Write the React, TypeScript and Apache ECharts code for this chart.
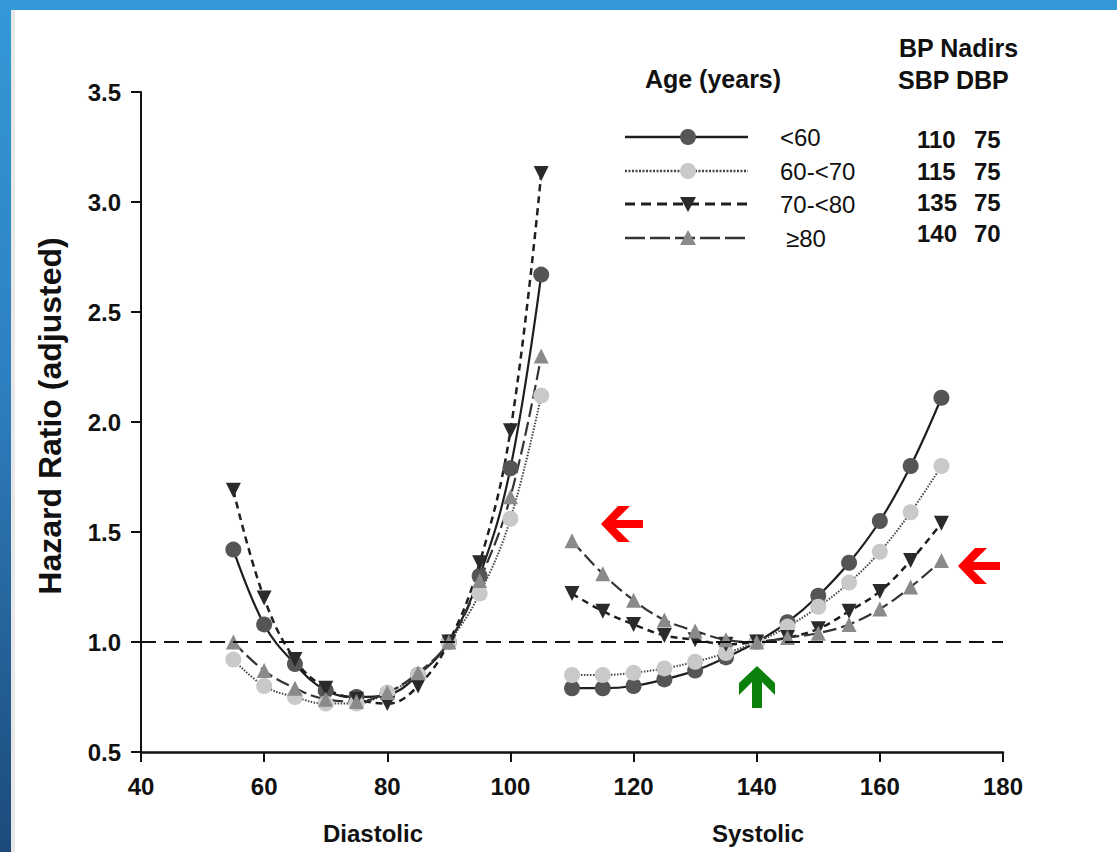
import React, { useEffect, useRef } from 'react';
import * as echarts from 'echarts';

const X_DIASTOLIC = [55, 60, 65, 70, 75, 80, 85, 90, 95, 100, 105];
const X_SYSTOLIC = [110, 115, 120, 125, 130, 135, 140, 145, 150, 155, 160, 165, 170];
const AGE_GROUPS = ['<60', '60-<70', '70-<80', '≥80'];

const DIA_LT60 = [1.42, 1.08, 0.9, 0.78, 0.75, 0.76, 0.85, 1.0, 1.3, 1.79, 2.67];
const DIA_60_70 = [0.92, 0.8, 0.75, 0.72, 0.72, 0.77, 0.85, 1.0, 1.22, 1.56, 2.12];
const DIA_70_80 = [1.69, 1.2, 0.92, 0.79, 0.74, 0.72, 0.8, 1.0, 1.36, 1.96, 3.13];
const DIA_GE80 = [1.0, 0.87, 0.79, 0.74, 0.73, 0.77, 0.86, 1.0, 1.28, 1.66, 2.3];

const SYS_LT60 = [0.79, 0.79, 0.8, 0.83, 0.87, 0.93, 1.0, 1.09, 1.21, 1.36, 1.55, 1.8, 2.11];
const SYS_60_70 = [0.85, 0.85, 0.86, 0.88, 0.91, 0.95, 1.0, 1.07, 1.16, 1.27, 1.41, 1.59, 1.8];
const SYS_70_80 = [1.22, 1.14, 1.08, 1.03, 1.01, 0.99, 1.0, 1.02, 1.06, 1.14, 1.23, 1.37, 1.54];
const SYS_GE80 = [1.46, 1.31, 1.19, 1.1, 1.05, 1.01, 1.0, 1.02, 1.04, 1.08, 1.15, 1.25, 1.37];

const SBP_NADIRS = [110, 115, 135, 140];
const DBP_NADIRS = [75, 75, 75, 70];

const FONT = '"Liberation Sans", Arial, Helvetica, sans-serif';
const DOWN_TRI = 'path://M0,0 L10,0 L5,9 Z';

const STYLES = [
  { symbol: 'circle', size: 16, fill: '#555555', line: { color: '#1e1e1e', width: 2.2, type: 'solid' as any } },
  { symbol: 'circle', size: 16, fill: '#c9c9c9', line: { color: '#444444', width: 2, type: [1.5, 1.5] as any } },
  { symbol: DOWN_TRI, size: 15, fill: '#2a2a2a', line: { color: '#1e1e1e', width: 2.5, type: [7, 5] as any } },
  { symbol: 'triangle', size: 15, fill: '#8a8a8a', line: { color: '#333333', width: 2.2, type: [14, 5] as any } },
];

const DIA_SETS = [DIA_LT60, DIA_60_70, DIA_70_80, DIA_GE80];
const SYS_SETS = [SYS_LT60, SYS_60_70, SYS_70_80, SYS_GE80];

function pairs(xs: number[], ys: number[]) {
  return xs.map((x, i) => [x, ys[i]]);
}

export default function App() {
  const ref = useRef<HTMLDivElement>(null);

  useEffect(() => {
    if (!ref.current) return;
    const chart = echarts.init(ref.current, undefined, { renderer: 'svg' });

    const series: any[] = [];
    AGE_GROUPS.forEach((name, g) => {
      const st = STYLES[g];
      [DIA_SETS[g], SYS_SETS[g]].forEach((vals, k) => {
        series.push({
          type: 'line',
          name,
          data: pairs(k === 0 ? X_DIASTOLIC : X_SYSTOLIC, vals),
          smooth: 0.4,
          symbol: st.symbol,
          symbolSize: st.size,
          itemStyle: { color: st.fill, borderWidth: 0 },
          lineStyle: st.line,
          z: 3,
        });
      });
    });
    series[0].markLine = {
      silent: true,
      symbol: 'none',
      label: { show: false },
      lineStyle: { color: '#111', width: 2.2, type: [15, 8] },
      data: [{ yAxis: 1 }],
    };

    const legendRowsY = [137, 171, 204, 238];
    const legendGraphics: any[] = [];
    AGE_GROUPS.forEach((name, g) => {
      const y = legendRowsY[g];
      const st = STYLES[g];
      legendGraphics.push({
        type: 'line',
        shape: { x1: 625, y1: y, x2: 748, y2: y },
        style: {
          stroke: st.line.color,
          lineWidth: st.line.width + 0.4,
          lineDash: g === 0 ? null : g === 1 ? [2, 1.5] : g === 2 ? [10, 6] : [20, 5],
        },
      });
      if (g < 2) {
        legendGraphics.push({ type: 'circle', shape: { cx: 688, cy: y, r: 8 }, style: { fill: st.fill } });
      } else if (g === 2) {
        legendGraphics.push({
          type: 'polygon',
          shape: { points: [[680, y - 7], [696, y - 7], [688, y + 8]] },
          style: { fill: st.fill },
        });
      } else {
        legendGraphics.push({
          type: 'polygon',
          shape: { points: [[688, y - 8], [696, y + 7], [680, y + 7]] },
          style: { fill: st.fill },
        });
      }
      legendGraphics.push({
        type: 'text',
        x: g === 3 ? 786 : 780,
        y,
        style: { text: name, font: `24px ${FONT}`, fill: '#111', verticalAlign: 'middle', align: 'left' },
      });
    });

    const nadirRowsY = [139, 171, 202, 233];
    const tableGraphics: any[] = [];
    SBP_NADIRS.forEach((v, i) => {
      tableGraphics.push({
        type: 'text',
        x: 917,
        y: nadirRowsY[i],
        style: { text: String(v), font: `bold 24px ${FONT}`, fill: '#111', verticalAlign: 'middle', align: 'left' },
      });
      tableGraphics.push({
        type: 'text',
        x: 974,
        y: nadirRowsY[i],
        style: { text: String(DBP_NADIRS[i]), font: `bold 24px ${FONT}`, fill: '#111', verticalAlign: 'middle', align: 'left' },
      });
    });

    const leftArrow = (x: number, y: number) => ({
      type: 'polygon',
      x,
      y,
      shape: { points: [[0, 0], [17, -18], [29, -18], [15, -4], [42, -4], [42, 4], [15, 4], [29, 18], [17, 18]] },
      style: { fill: '#ff0000' },
      z: 10,
    });

    chart.setOption({
      animation: false,
      backgroundColor: '#ffffff',
      grid: { left: 141, right: 114, top: 92, bottom: 100, containLabel: false },
      xAxis: {
        type: 'value',
        min: 40,
        max: 180,
        interval: 20,
        axisLine: { lineStyle: { color: '#111', width: 2.5 } },
        axisTick: { show: true, length: 10, lineStyle: { color: '#111', width: 2 } },
        axisLabel: { margin: 22, color: '#111', fontSize: 24, fontWeight: 'bold', fontFamily: FONT },
        splitLine: { show: false },
      },
      yAxis: {
        type: 'value',
        min: 0.5,
        max: 3.5,
        interval: 0.5,
        axisLine: { show: true, lineStyle: { color: '#111', width: 2 } },
        axisTick: { show: true, length: 10, lineStyle: { color: '#111', width: 2 } },
        axisLabel: {
          margin: 20,
          color: '#111',
          fontSize: 24,
          fontWeight: 'bold',
          fontFamily: FONT,
          formatter: (v: number) => v.toFixed(1),
        },
        splitLine: { show: false },
      },
      series,
      graphic: [
        { type: 'rect', shape: { x: 0, y: 0, width: 1117, height: 10 }, style: { fill: '#3499d7' }, z: 20 },
        {
          type: 'rect',
          shape: { x: 0, y: 0, width: 11, height: 852 },
          style: {
            fill: new echarts.graphic.LinearGradient(0, 0, 0, 1, [
              { offset: 0, color: '#3499d7' },
              { offset: 0.45, color: '#2e7fbf' },
              { offset: 1, color: '#1d4a7a' },
            ]),
          },
          z: 20,
        },
        { type: 'rect', shape: { x: 11, y: 10, width: 4, height: 842 }, style: { fill: '#e8e8e8' }, z: 20 },
        {
          type: 'text',
          x: 50,
          y: 416,
          rotation: Math.PI / 2,
          style: {
            text: 'Hazard Ratio (adjusted)',
            font: `bold 32px ${FONT}`,
            fill: '#111',
            align: 'center',
            verticalAlign: 'middle',
          },
        },
        {
          type: 'text',
          x: 373,
          y: 833,
          style: { text: 'Diastolic', font: `bold 24px ${FONT}`, fill: '#111', align: 'center', verticalAlign: 'middle' },
        },
        {
          type: 'text',
          x: 758,
          y: 833,
          style: { text: 'Systolic', font: `bold 24px ${FONT}`, fill: '#111', align: 'center', verticalAlign: 'middle' },
        },
        {
          type: 'text',
          x: 713,
          y: 79,
          style: { text: 'Age (years)', font: `bold 25px ${FONT}`, fill: '#111', align: 'center', verticalAlign: 'middle' },
        },
        {
          type: 'text',
          x: 899,
          y: 48,
          style: { text: 'BP Nadirs', font: `bold 25px ${FONT}`, fill: '#111', align: 'left', verticalAlign: 'middle' },
        },
        {
          type: 'text',
          x: 898,
          y: 80,
          style: { text: 'SBP DBP', font: `bold 25px ${FONT}`, fill: '#111', align: 'left', verticalAlign: 'middle' },
        },
        ...legendGraphics,
        ...tableGraphics,
        leftArrow(601, 524),
        leftArrow(958, 566),
        {
          type: 'polygon',
          x: 757,
          y: 666,
          shape: { points: [[0, 0], [18, 17], [18, 29], [5, 16], [5, 42], [-5, 42], [-5, 16], [-18, 29], [-18, 17]] },
          style: { fill: '#0b800b' },
          z: 10,
        },
      ],
    });

    return () => chart.dispose();
  }, []);

  return (
    <div
      ref={ref}
      style={{ position: 'fixed', left: 0, top: 0, width: 1117, height: 852, background: '#fff' }}
    />
  );
}
